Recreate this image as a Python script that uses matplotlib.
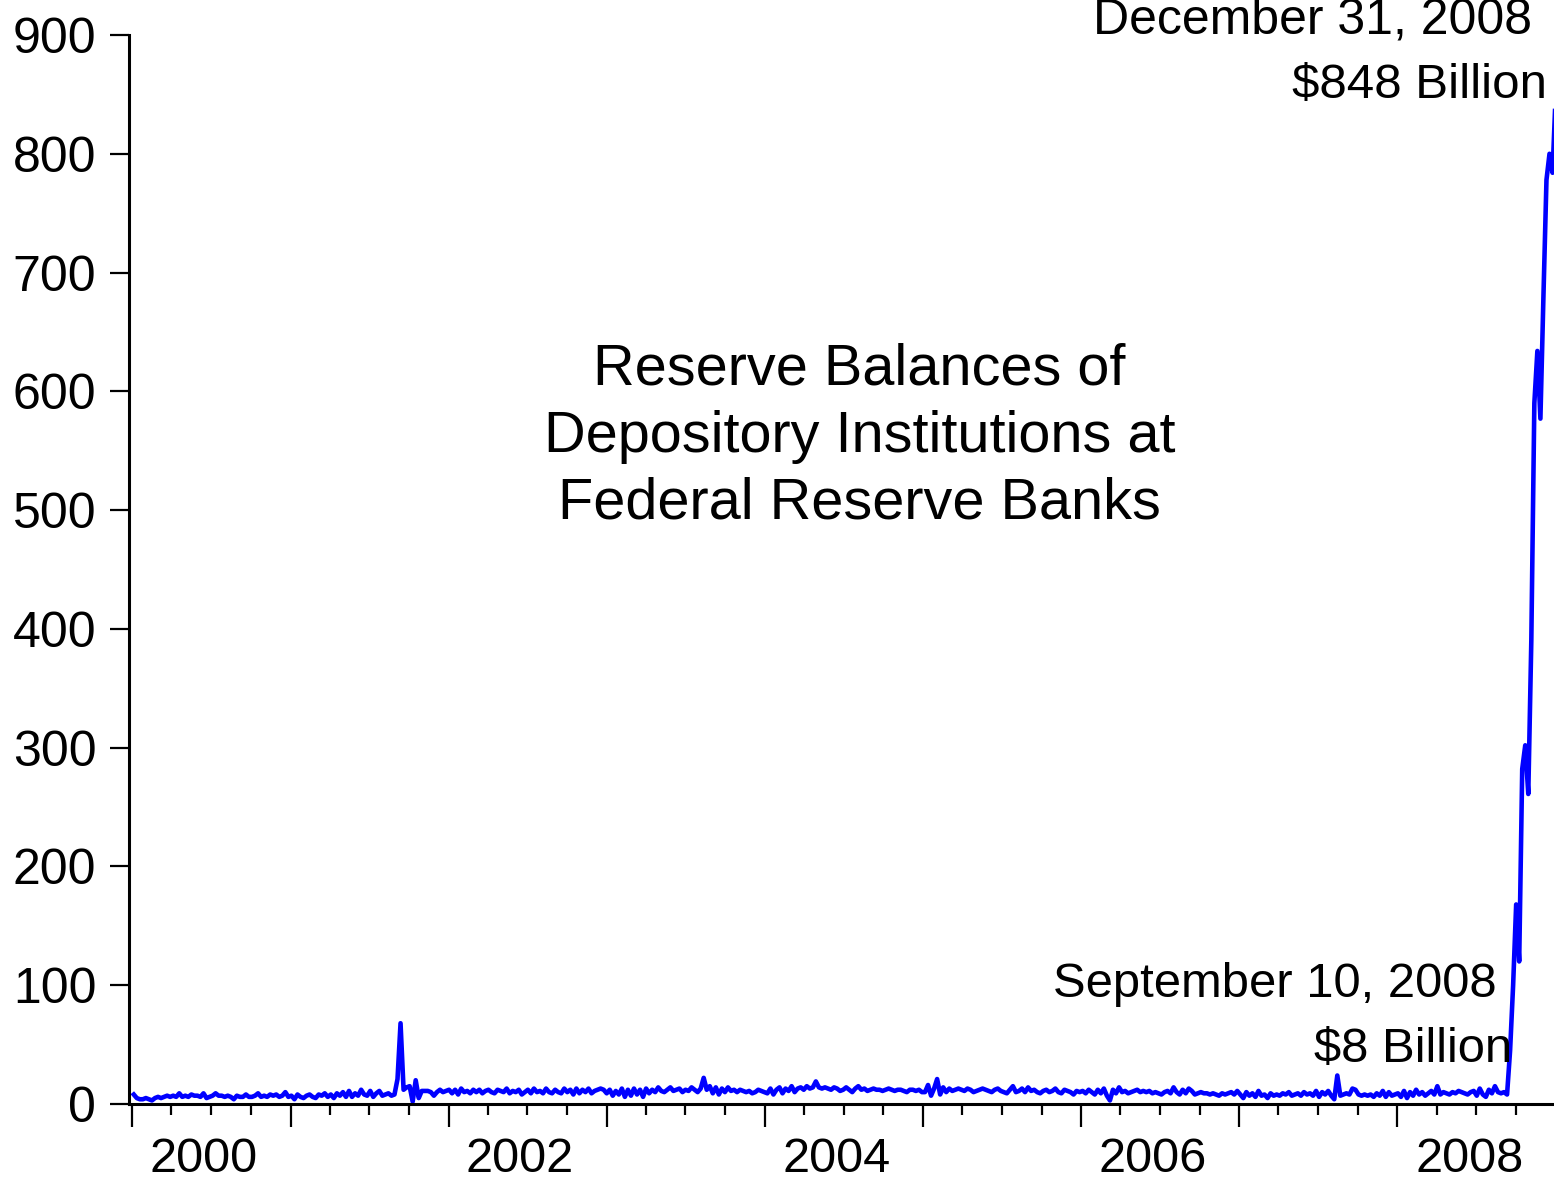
import numpy as np
import pandas as pd
import matplotlib
matplotlib.use("Agg")
import matplotlib.pyplot as plt
import matplotlib.dates as mdates

plt.rcParams['font.family'] = ['Liberation Sans', 'DejaVu Sans']

# Weekly (Wednesday) reserve balances, billions of dollars
y2000 = [8, 5, 4, 4, 5, 4, 3, 5, 6, 5, 6, 7, 6, 7, 6, 9, 6, 7, 6, 8,
         7, 7, 6, 9, 5, 6, 7, 9, 7, 7, 6, 7, 6, 4, 7, 6, 6, 8, 6, 6,
         7, 9, 6, 7, 6, 8, 7, 8, 6, 7, 10, 6]
y2001 = [7, 4, 8, 6, 5, 7, 8, 6, 5, 8, 7, 9, 6, 8, 5, 9, 7, 10, 6, 11,
         6, 9, 7, 12, 8, 7, 11, 6, 9, 11, 7, 8, 9, 7, 8, 21, 68, 12, 14, 15,
         2, 20, 5, 11, 11, 11, 10, 7, 10, 12, 10, 11]
y2002 = [12, 9, 12, 8, 13, 10, 11, 9, 12, 10, 12, 9, 11, 12, 10, 9, 12, 11, 10, 13,
         9, 11, 10, 12, 8, 10, 12, 9, 13, 10, 11, 9, 13, 10, 9, 12, 10, 9, 13, 10,
         12, 8, 13, 9, 12, 10, 13, 9, 11, 12, 13, 12]
y2003 = [9, 12, 7, 11, 8, 13, 6, 12, 7, 13, 8, 12, 6, 13, 9, 12, 10, 14, 11, 10,
         12, 14, 11, 12, 13, 10, 12, 11, 14, 12, 10, 13, 22, 12, 15, 9, 14, 8, 13, 10,
         14, 11, 12, 10, 12, 11, 10, 11, 9, 10, 12, 11, 10]
y2004 = [9, 13, 8, 12, 14, 9, 13, 11, 15, 10, 13, 14, 12, 15, 13, 14, 19, 14, 13, 14,
         13, 12, 14, 13, 11, 12, 14, 12, 10, 13, 15, 12, 13, 11, 12, 13, 12, 12, 11, 12,
         13, 12, 11, 12, 12, 11, 10, 12, 12, 11, 12, 10]
y2005 = [10, 16, 7, 13, 21, 8, 14, 10, 13, 11, 12, 13, 12, 11, 13, 12, 10, 11, 12, 13,
         12, 11, 10, 12, 13, 11, 10, 9, 12, 15, 10, 11, 13, 10, 14, 11, 12, 10, 9, 11,
         12, 10, 11, 13, 10, 9, 12, 11, 10, 8, 11, 10]
y2006 = [11, 9, 12, 10, 8, 12, 9, 13, 7, 3, 12, 9, 14, 10, 11, 9, 10, 11, 12, 10,
         11, 10, 11, 9, 10, 9, 8, 10, 11, 9, 14, 10, 8, 12, 9, 13, 11, 8, 9, 10,
         9, 9, 8, 9, 8, 7, 9, 8, 9, 10, 8, 11]
y2007 = [8, 5, 10, 7, 9, 6, 11, 7, 8, 5, 9, 7, 8, 7, 9, 8, 10, 7, 8, 9,
         7, 10, 8, 9, 7, 11, 6, 10, 8, 11, 7, 4, 24, 7, 8, 9, 8, 13, 12, 8,
         7, 8, 7, 8, 6, 9, 7, 11, 6, 10, 7, 8]
y2008 = [9, 6, 11, 5, 10, 7, 12, 8, 10, 7, 9, 11, 8, 15, 8, 10, 9, 8, 10, 9,
         11, 10, 9, 8, 10, 11, 7, 13, 8, 6, 12, 9, 15, 10, 9, 10, 8,
         45, 100, 168, 120, 282, 302, 261, 390, 590, 634, 577, 680, 778, 800, 784, 848]

values = y2000 + y2001 + y2002 + y2003 + y2004 + y2005 + y2006 + y2007 + y2008
dates = pd.date_range("2000-01-05", "2008-12-31", freq="W-WED")

label_years = [2000, 2002, 2004, 2006, 2008]

W, H = 1554, 1183
fig = plt.figure(figsize=(W / 100, H / 100), dpi=100)
ax = fig.add_axes([129 / W, (H - 1104) / H, (1556 - 129) / W, (1104 - 35) / H])

ax.plot(dates, values, color="#0000FF", linewidth=3.3, solid_joinstyle="round")

ax.set_xlim(pd.Timestamp("1999-12-25"), pd.Timestamp("2009-01-01"))
ax.set_ylim(0, 900)

for s in ["top", "right"]:
    ax.spines[s].set_visible(False)
for s in ["left", "bottom"]:
    ax.spines[s].set_linewidth(2.2)

ax.set_yticks(np.arange(0, 901, 100))
ax.tick_params(axis="y", direction="out", length=13.5, width=1.6, pad=10,
               labelsize=36)

ax.xaxis.set_major_locator(mdates.YearLocator(1))
ax.xaxis.set_minor_locator(mdates.MonthLocator(bymonth=[4, 7, 10]))
ax.tick_params(axis="x", which="major", direction="out", length=16.5, width=1.6,
               labelbottom=False)
ax.tick_params(axis="x", which="minor", direction="out", length=8, width=1.6)

# year labels, roughly centred on each labelled year
sec = ax.secondary_xaxis("bottom")
sec.spines["bottom"].set_visible(False)
sec.set_xticks([mdates.date2num(pd.Timestamp(f"{y}-06-15")) for y in label_years])
sec.set_xticklabels([str(y) for y in label_years])
sec.tick_params(axis="x", length=0, pad=24, labelsize=35)

ax.text(0.512, 0.624, "Reserve Balances of\nDepository Institutions at\nFederal Reserve Banks",
        transform=ax.transAxes, ha="center", va="center", fontsize=41.5,
        linespacing=1.31)

fig.text(1532 / W, 1 - 33 / H, "December 31, 2008", ha="right", va="baseline", fontsize=36)
fig.text(1547 / W, 1 - 98 / H, "$848 Billion", ha="right", va="baseline", fontsize=35.5)
fig.text(1497 / W, 1 - 997 / H, "September 10, 2008", ha="right", va="baseline", fontsize=35.3)
fig.text(1512 / W, 1 - 1062 / H, "$8 Billion", ha="right", va="baseline", fontsize=35.3)

fig.savefig("out.png", dpi=100)
